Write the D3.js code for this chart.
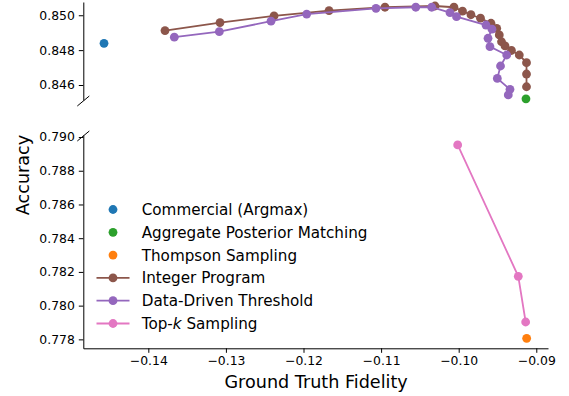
<!DOCTYPE html>
<html>
<head>
<meta charset="utf-8">
<script src="https://cdn.jsdelivr.net/npm/d3@7"></script>
<style>
  body { margin: 0; background: #fff; }
  svg { display: block; font-family: "DejaVu Sans", sans-serif; }
</style>
</head>
<body>
<script>
// ---- data ----
const commercial = [[-0.14571, 0.84839]]
const aggPosterior = [[-0.09133, 0.84521]]
const thompson = [[-0.09124, 0.77806]]

const integerProgram = [
  [-0.13785, 0.84912], [-0.13076, 0.84958], [-0.12380, 0.84996], [-0.11671, 0.85026],
  [-0.10950, 0.85046], [-0.10305, 0.85053], [-0.10061, 0.85046], [-0.09951, 0.85024],
  [-0.09842, 0.85003], [-0.09719, 0.84983], [-0.09584, 0.84954], [-0.09510, 0.84925],
  [-0.09477, 0.84887], [-0.09448, 0.84848], [-0.09403, 0.84824], [-0.09320, 0.84798],
  [-0.09219, 0.84772], [-0.09126, 0.84728], [-0.09126, 0.84663], [-0.09126, 0.84590]
]
const dataDriven = [
  [-0.13665, 0.84874], [-0.13085, 0.84906], [-0.12419, 0.84966], [-0.11959, 0.85007],
  [-0.11066, 0.85040], [-0.10553, 0.85046], [-0.10348, 0.85046], [-0.10112, 0.85015],
  [-0.10028, 0.84992], [-0.09648, 0.84944], [-0.09571, 0.84920], [-0.09622, 0.84868],
  [-0.09597, 0.84820], [-0.09381, 0.84772], [-0.09461, 0.84709], [-0.09502, 0.84638],
  [-0.09339, 0.84575], [-0.09361, 0.84543]
]
const topK = [[-0.10013, 0.78953], [-0.09232, 0.78174], [-0.09137, 0.77903]]

const xTicks = [-0.14, -0.13, -0.12, -0.11, -0.10, -0.09]
const yTicksTop = [0.846, 0.848, 0.850]
const yTicksBottom = [0.778, 0.780, 0.782, 0.784, 0.786, 0.788, 0.790]

const series = [
  { name: "Commercial (Argmax)", data: commercial, color: "#1f77b4", line: false },
  { name: "Aggregate Posterior Matching", data: aggPosterior, color: "#2ca02c", line: false },
  { name: "Thompson Sampling", data: thompson, color: "#ff7f0e", line: false },
  { name: "Integer Program", data: integerProgram, color: "#8c564b", line: true },
  { name: "Data-Driven Threshold", data: dataDriven, color: "#9467bd", line: true },
  { name: "Top-k Sampling", data: topK, color: "#e377c2", line: true },
]

// ---- layout ----
const width = 569, height = 396
const left = 83.3, right = 548
const topPanel = { y0: 2, y1: 100 }
const botPanel = { y0: 135, y1: 348.3 }
const tickFont = 12.4, legendFont = 15.2, labelFont = 17.6
const r = 4.4

const xScale = d3.scaleLinear([-0.14838, -0.08849], [left, right])
const yTop = d3.scaleLinear([0.84514, 0.85076], [topPanel.y1, topPanel.y0])
const yBot = d3.scaleLinear([0.77747, 0.79012], [botPanel.y1, botPanel.y0])

const svg = d3.select("body").append("svg")
  .attr("width", width)
  .attr("height", height)
  .attr("viewBox", [0, 0, width, height])

const defs = svg.append("defs")
defs.append("clipPath").attr("id", "clip-top").append("rect")
  .attr("x", left).attr("y", topPanel.y0 - 1)
  .attr("width", right - left).attr("height", topPanel.y1 - topPanel.y0 + 1)
defs.append("clipPath").attr("id", "clip-bot").append("rect")
  .attr("x", left).attr("y", botPanel.y0)
  .attr("width", right - left).attr("height", botPanel.y1 - botPanel.y0)

function styleAxis(g) {
  g.selectAll("text").attr("font-size", tickFont).attr("fill", "#000")
   .attr("font-family", "DejaVu Sans")
  g.selectAll(".tick line").attr("stroke", "#000").attr("stroke-width", 1)
  g.select(".domain").attr("stroke", "#000").attr("stroke-width", 1)
}

// y axes
svg.append("g")
  .attr("transform", `translate(${left},0)`)
  .call(d3.axisLeft(yTop).tickValues(yTicksTop).tickFormat(d3.format(".3f"))
    .tickSize(4.5).tickSizeOuter(0).tickPadding(4))
  .call(styleAxis)

svg.append("g")
  .attr("transform", `translate(${left},0)`)
  .call(d3.axisLeft(yBot).tickValues(yTicksBottom).tickFormat(d3.format(".3f"))
    .tickSize(4.5).tickSizeOuter(0).tickPadding(4))
  .call(styleAxis)

// x axis
svg.append("g")
  .attr("transform", `translate(0,${botPanel.y1})`)
  .call(d3.axisBottom(xScale).tickValues(xTicks).tickFormat(d3.format(".2f"))
    .tickSize(4.5).tickSizeOuter(0).tickPadding(3.5))
  .call(styleAxis)

// break marks
const breaks = svg.append("g").attr("stroke", "#000").attr("stroke-width", 1)
breaks.append("line")
  .attr("x1", left - 6).attr("y1", topPanel.y1 + 6)
  .attr("x2", left + 6).attr("y2", topPanel.y1 - 4)
breaks.append("line")
  .attr("x1", left - 6).attr("y1", botPanel.y0 + 6)
  .attr("x2", left + 6).attr("y2", botPanel.y0 - 4)

// series in each panel: lines clipped, markers kept whole if centre is inside
const panels = [
  { y: yTop, clip: "url(#clip-top)" },
  { y: yBot, clip: "url(#clip-bot)" },
]
panels.forEach(p => {
  const g = svg.append("g")
  const line = d3.line().x(d => xScale(d[0])).y(d => p.y(d[1]))
  const [lo, hi] = p.y.domain()
  series.forEach(s => {
    if (s.line) {
      g.append("path")
        .attr("clip-path", p.clip)
        .attr("d", line(s.data))
        .attr("fill", "none")
        .attr("stroke", s.color)
        .attr("stroke-width", 1.8)
    }
    g.append("g").selectAll("circle")
      .data(s.data.filter(d => d[1] >= lo && d[1] <= hi))
      .join("circle")
      .attr("cx", d => xScale(d[0]))
      .attr("cy", d => p.y(d[1]))
      .attr("r", r)
      .attr("fill", s.color)
  })
})

// axis labels
svg.append("text")
  .attr("x", (left + right) / 2 + 0.5)
  .attr("y", 388)
  .attr("text-anchor", "middle")
  .attr("font-size", labelFont)
  .text("Ground Truth Fidelity")

svg.append("text")
  .attr("transform", `translate(29,175) rotate(-90)`)
  .attr("text-anchor", "middle")
  .attr("font-size", labelFont)
  .text("Accuracy")

// legend
const legend = svg.append("g")
const rowY = i => 209.5 + i * 22.8
series.forEach((s, i) => {
  const y = rowY(i)
  if (s.line) {
    legend.append("line")
      .attr("x1", 96.5).attr("x2", 129.5)
      .attr("y1", y).attr("y2", y)
      .attr("stroke", s.color).attr("stroke-width", 1.8)
  }
  legend.append("circle")
    .attr("cx", 113).attr("cy", y).attr("r", r).attr("fill", s.color)
  const t = legend.append("text")
    .attr("x", 141.7).attr("y", y)
    .attr("dy", "0.36em")
    .attr("font-size", legendFont)
  if (s.name === "Top-k Sampling") {
    t.append("tspan").text("Top-")
    t.append("tspan").attr("font-style", "italic").text("k")
    t.append("tspan").text(" Sampling")
  } else {
    t.text(s.name)
  }
})
</script>
</body>
</html>
